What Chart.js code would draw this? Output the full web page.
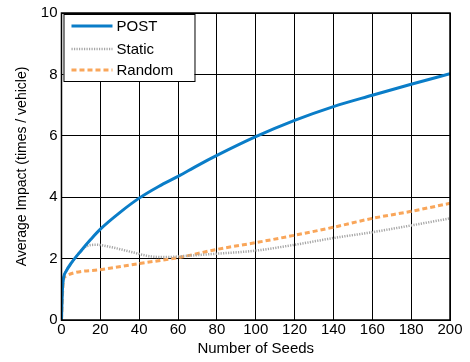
<!DOCTYPE html>
<html>
<head>
<meta charset="utf-8">
<script src="https://cdn.jsdelivr.net/npm/chart.js@4/dist/chart.umd.min.js"></script>
<style>
  html, body { margin: 0; padding: 0; background: #fff; }
  #wrap { width: 470px; height: 362px; position: relative; }
</style>
</head>
<body>
<div id="wrap"><canvas id="c"></canvas></div>
<script>
  const postX = [0, 0.5, 1, 2.5, 5, 10, 15, 20, 30, 40, 50, 60, 70, 80, 100, 120, 140, 160, 180, 200];
  const postY = [0, 1.0, 1.35, 1.6, 1.85, 2.25, 2.62, 2.96, 3.5, 3.97, 4.35, 4.68, 5.03, 5.36, 5.97, 6.5, 6.95, 7.32, 7.68, 8.02];

  const staticX = [0, 0.5, 1, 2.5, 5, 10, 13, 18, 25, 37, 45, 55, 60, 80, 100, 120, 140, 160, 180, 200];
  const staticY = [0, 1.0, 1.35, 1.6, 1.85, 2.25, 2.4, 2.45, 2.38, 2.2, 2.08, 2.05, 2.07, 2.16, 2.26, 2.45, 2.67, 2.86, 3.08, 3.31];

  const randomX = [0, 0.5, 1, 2, 20, 40, 60, 80, 100, 120, 140, 160, 180, 200];
  const randomY = [0, 0.8, 1.3, 1.42, 1.64, 1.84, 2.03, 2.3, 2.52, 2.76, 3.02, 3.31, 3.54, 3.8];

  const xTicks = [0, 20, 40, 60, 80, 100, 120, 140, 160, 180, 200];
  const yTicks = [0, 2, 4, 6, 8, 10];

  const toPts = (xs, ys) => xs.map((x, i) => ({ x: x, y: ys[i] }));

  const FONT = "'Liberation Sans', Arial, sans-serif";

  // legend drawn inside the plot box, top-left
  const boxLegend = {
    id: "boxLegend",
    afterDraw(chart) {
      const { ctx, chartArea } = chart;
      const x0 = chartArea.left + 2, y0 = chartArea.top + 1;
      const w = 131, h = 67;
      const rows = [12, 35, 56];
      ctx.save();
      ctx.fillStyle = "#fff";
      ctx.fillRect(x0, y0, w, h);
      ctx.strokeStyle = "#000";
      ctx.lineWidth = 1;
      ctx.strokeRect(x0 + 0.5, y0 + 0.5, w, h);
      ctx.font = "15px " + FONT;
      ctx.textBaseline = "middle";
      chart.data.datasets.forEach((ds, i) => {
        const cy = y0 + rows[i];
        ctx.beginPath();
        ctx.strokeStyle = ds.borderColor;
        ctx.lineWidth = ds.borderWidth;
        ctx.setLineDash(ds.borderDash || []);
        ctx.moveTo(x0 + 8, cy);
        ctx.lineTo(x0 + 49, cy);
        ctx.stroke();
        ctx.setLineDash([]);
        ctx.fillStyle = "#000";
        ctx.fillText(ds.label, x0 + 53, cy + 1);
      });
      ctx.restore();
    }
  };

  new Chart(document.getElementById("c"), {
    type: "line",
    data: {
      datasets: [
        { label: "POST", data: toPts(postX, postY), borderColor: "#0a7dc8", borderWidth: 3, pointRadius: 0, cubicInterpolationMode: "monotone" },
        { label: "Static", data: toPts(staticX, staticY), borderColor: "#a6a6a6", borderWidth: 2.5, borderDash: [1.2, 1.3], pointRadius: 0, cubicInterpolationMode: "monotone" },
        { label: "Random", data: toPts(randomX, randomY), borderColor: "#f9a65a", borderWidth: 3, borderDash: [5, 3], pointRadius: 0, cubicInterpolationMode: "monotone" }
      ]
    },
    options: {
      responsive: true,
      maintainAspectRatio: false,
      animation: false,
      layout: { padding: { left: 14, right: 20, top: 8, bottom: 4 } },
      plugins: { legend: { display: false }, tooltip: { enabled: false } },
      scales: {
        x: {
          type: "linear", min: 0, max: 200,
          afterBuildTicks: (s) => { s.ticks = xTicks.map(v => ({ value: v })); },
          ticks: { color: "#000", font: { family: FONT, size: 15 }, padding: 1, maxRotation: 0 },
          grid: { color: "#000", lineWidth: 1, drawTicks: false },
          border: { color: "#000", width: 1 },
          title: { display: true, text: "Number of Seeds", color: "#000", font: { family: FONT, size: 15 }, padding: { top: 0, bottom: 0 } }
        },
        y: {
          min: 0, max: 10,
          afterBuildTicks: (s) => { s.ticks = yTicks.map(v => ({ value: v })); },
          ticks: { color: "#000", font: { family: FONT, size: 15 }, padding: 4 },
          grid: { color: "#000", lineWidth: 1, drawTicks: false },
          border: { color: "#000", width: 1 },
          title: { display: true, text: "Average Impact (times / vehicle)", color: "#000", font: { family: FONT, size: 14 }, padding: { top: 0, bottom: 6 } }
        }
      }
    },
    plugins: [boxLegend, {
      id: "frame",
      afterDraw(chart) {
        const { ctx, chartArea: a } = chart;
        ctx.save();
        ctx.strokeStyle = "#000";
        ctx.lineWidth = 1.5;
        ctx.strokeRect(a.left, a.top, a.right - a.left, a.bottom - a.top);
        ctx.restore();
      }
    }]
  });
</script>
</body>
</html>
